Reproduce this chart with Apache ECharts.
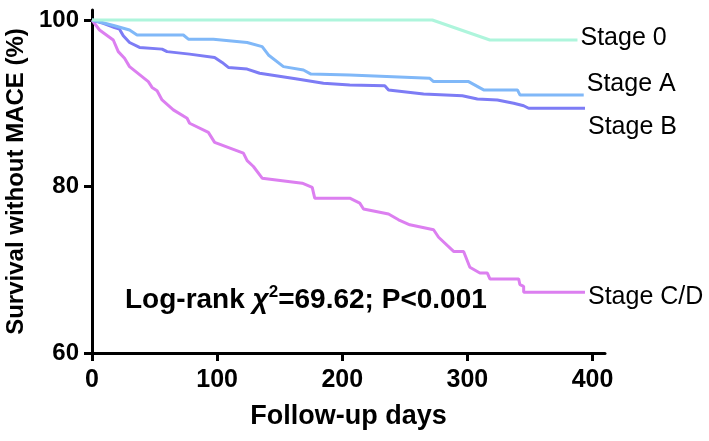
<!DOCTYPE html>
<html>
<head>
<meta charset="utf-8">
<script src="https://cdn.jsdelivr.net/npm/echarts@6/dist/echarts.min.js"></script>
<style>html,body{margin:0;padding:0;background:#fff}#c{width:709px;height:441px}</style>
</head>
<body>
<div id="c"></div>
<script>
const xTicks = [0, 100, 200, 300, 400];
const yTicks = [60, 80, 100];
const seriesNames = ['Stage 0', 'Stage A', 'Stage B', 'Stage C/D'];
const stage0 = [[0,100],[272,100],[318,97.6],[388,97.6]];
const stageA = [[0,100],[18,99.3],[30,98.8],[36,98.2],[73,98.2],[77,97.7],[97,97.7],[124,97.3],[136,96.8],[141,95.8],[153,94.4],[169,94.0],[175,93.5],[206,93.4],[270,93.0],[273,92.6],[301,92.6],[313,91.6],[340,91.6],[342,91.0],[393,91.0]];
const stageB = [[0,100],[9,99.6],[18,99.1],[22,98.9],[25,98.1],[30,97.3],[38,96.7],[56,96.5],[60,96.2],[78,95.9],[98,95.5],[104,94.9],[109,94.3],[124,94.1],[134,93.6],[164,92.9],[185,92.4],[206,92.2],[234,92.1],[237,91.6],[265,91.1],[296,90.9],[308,90.5],[324,90.4],[337,90.0],[345,89.7],[349,89.4],[394,89.4]];
const stageCD = [[0,100],[6,98.8],[17,97.6],[21,96.2],[26,95.4],[30,94.4],[45,92.6],[48,91.9],[52,91.5],[56,90.4],[65,89.2],[76,88.2],[78,87.6],[93,86.5],[98,85.3],[121,84.0],[124,83.1],[129,82.4],[136,81.0],[168,80.4],[176,79.9],[178,78.6],[206,78.6],[214,78.0],[217,77.3],[237,76.7],[245,76.0],[254,75.4],[273,74.8],[277,73.9],[289,72.2],[297,72.2],[302,70.3],[310,69.6],[316,69.6],[318,68.9],[341,68.9],[342,68.2],[345,68.0],[345,67.3],[394,67.3]];
const colors = ['#aef5dc', '#80b8f8', '#7d7cf5', '#dc7ff0'];
const labelOffsets = [[0, -2], [0, -11], [0, 19], [0, 5]];
const allData = [stage0, stageA, stageB, stageCD];

const font = '"Liberation Sans", Arial, sans-serif';
const chart = echarts.init(document.getElementById('c'));
chart.setOption({
  animation: false,
  backgroundColor: '#fff',
  grid: {left: 92, right: 104, top: 10, bottom: 88, containLabel: false, outerBoundsMode: 'none'},
  xAxis: {
    type: 'value', min: 0, max: 410,
    name: 'Follow-up days', nameLocation: 'middle', nameGap: 50,
    nameTextStyle: {fontFamily: font, fontWeight: 'bold', fontSize: 27, color: '#000'},
    axisLine: {lineStyle: {color: '#000', width: 3}},
    axisTick: {show: true, length: 8, lineStyle: {color: '#000', width: 3}, customValues: xTicks},
    axisLabel: {customValues: xTicks, fontFamily: font, fontWeight: 'bold', fontSize: 25, color: '#000', margin: 15},
    splitLine: {show: false}
  },
  yAxis: {
    type: 'value', min: 60, max: 101.2,
    name: 'Survival without MACE (%)', nameLocation: 'middle', nameGap: 56, nameRotate: 90,
    nameTextStyle: {fontFamily: font, fontWeight: 'bold', fontSize: 24, color: '#000'},
    axisLine: {show: true, lineStyle: {color: '#000', width: 3}},
    axisTick: {show: true, length: 8, lineStyle: {color: '#000', width: 3}, customValues: yTicks},
    axisLabel: {customValues: yTicks, fontFamily: font, fontWeight: 'bold', fontSize: 24, color: '#000', margin: 13},
    splitLine: {show: false}
  },
  series: allData.map((d, i) => ({
    name: seriesNames[i], type: 'line', data: d, showSymbol: false, symbol: 'none',
    lineStyle: {color: colors[i], width: 3},
    z: 10 - i,
    endLabel: {show: true, formatter: seriesNames[i], offset: labelOffsets[i], distance: 3,
      fontFamily: font, fontSize: 25, color: '#000'}
  })),
  graphic: [{
    type: 'text', left: 125, top: 284,
    style: {
      text: '{a|Log-rank }{b|χ}{c|2}{a|=69.62; P<0.001}',
      rich: {
        a: {fontFamily: font, fontWeight: 'bold', fontSize: 28, fill: '#000', lineHeight: 34},
        b: {fontFamily: font, fontWeight: 'bold', fontStyle: 'italic', fontSize: 28, fill: '#000', lineHeight: 34},
        c: {fontFamily: font, fontWeight: 'bold', fontSize: 17, fill: '#000', padding: [0, 0, 16, 0], lineHeight: 34}
      }
    }
  }]
});
</script>
</body>
</html>
